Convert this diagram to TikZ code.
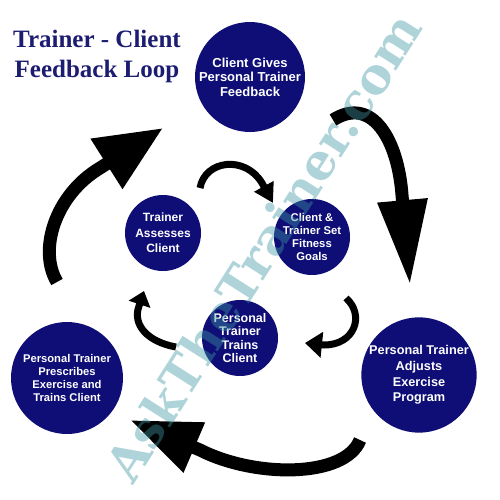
\documentclass[tikz,border=0pt]{standalone}
\usepackage{fontspec}
\setmainfont{Liberation Sans}
\newfontfamily\titlefont{Liberation Serif}
\newfontfamily\markfont{DejaVu Serif}
\usetikzlibrary{arrows.meta}
\definecolor{bubblenavy}{RGB}{14,14,118}
\definecolor{titlenavy}{RGB}{28,28,112}
\definecolor{markcyan}{RGB}{62,150,162}
\tikzset{
  bubble/.style n args={3}{circle,fill=bubblenavy,text=white,align=center,
    inner sep=0pt,minimum size=#1,font=\bfseries\fontsize{#2}{#3}\selectfont},
  heading/.style={align=center,font=\titlefont\bfseries\fontsize{25}{30}\selectfont},
  bigloop/.style n args={2}{line width=13pt,-{Triangle[length=#1,width=#2]}},
  smallloop/.style n args={2}{line width=7pt,-{Triangle[length=#1,width=#2]}},
}
\begin{document}
\begin{tikzpicture}[x=1pt,y=-1pt]
  \useasboundingbox (0,0) rectangle (500,500);
  % title
  \node[heading,text=titlenavy] (title) at (97,56) {Trainer - Client\\Feedback Loop};
  % outer loop
  \node[bubble={110pt}{13}{14.5}] (feedback) at (250,77) {Client Gives\\Personal Trainer\\Feedback};
  \node[bubble={112pt}{12.7}{15.6}] (adjusts) at (419,375) {Personal Trainer\\Adjusts\\Exercise\\Program};
  \node[bubble={112pt}{11.2}{13.3}] (prescribes) at (67,378) {Personal Trainer\\Prescribes\\Exercise and\\Trains Client};
  % inner loop
  \node[bubble={76pt}{12}{15.7}] (assesses) at (163,233) {Trainer\\Assesses\\Client};
  \node[bubble={76pt}{11.3}{12.7}] (goals) at (312,237) {Client \&\\Trainer Set\\Fitness\\Goals};
  \node[bubble={76pt}{12.5}{13.2}] (trains) at (240,338) {Personal\\Trainer\\Trains\\Client};
  % arrow ends
  \coordinate (fbout) at (333,120);
  \coordinate (adjbase) at (402,195);
  \coordinate (adjin) at (410,285);
  \coordinate (adjout) at (360,440);
  \coordinate (prbase) at (200,450);
  \coordinate (prin) at (130,420);
  \coordinate (prout) at (57,282);
  \coordinate (fbbase) at (100,168);
  \coordinate (fbin) at (163,128);
  \coordinate (asout) at (200,188);
  \coordinate (gobase) at (262,183);
  \coordinate (goin) at (273,203);
  \coordinate (goout) at (346,298);
  \coordinate (trbase) at (324,345);
  \coordinate (trin) at (305,343);
  \coordinate (trout) at (176,347);
  \coordinate (asbase) at (139,306);
  \coordinate (asin) at (144,291);
  \begin{scope}[black]
    \draw[bigloop={85pt}{47pt}] (fbout) .. controls (372,95) and (398,140) .. (adjbase) -- (adjin);
    \draw[bigloop={70pt}{51pt}] (adjout) .. controls (345,478) and (255,478) .. (prbase) -- (prin);
    \draw[bigloop={67pt}{56pt}] (prout) .. controls (38,250) and (55,195) .. (fbbase) -- (fbin);
    \draw[smallloop={19pt}{21pt}] (asout) .. controls (205,160) and (245,155) .. (gobase) -- (goin);
    \draw[smallloop={17pt}{25pt}] (goout) .. controls (365,315) and (355,345) .. (trbase) -- (trin);
    \draw[smallloop={14pt}{22pt}] (trout) .. controls (148,342) and (132,325) .. (asbase) -- (asin);
  \end{scope}
  % watermark
  \node[rotate=57.5,text=markcyan,text opacity=0.42,
    font=\markfont\bfseries\fontsize{50}{50}\selectfont] (mark) at (263,247) {AskTheTrainer.com};
\end{tikzpicture}
\end{document}
